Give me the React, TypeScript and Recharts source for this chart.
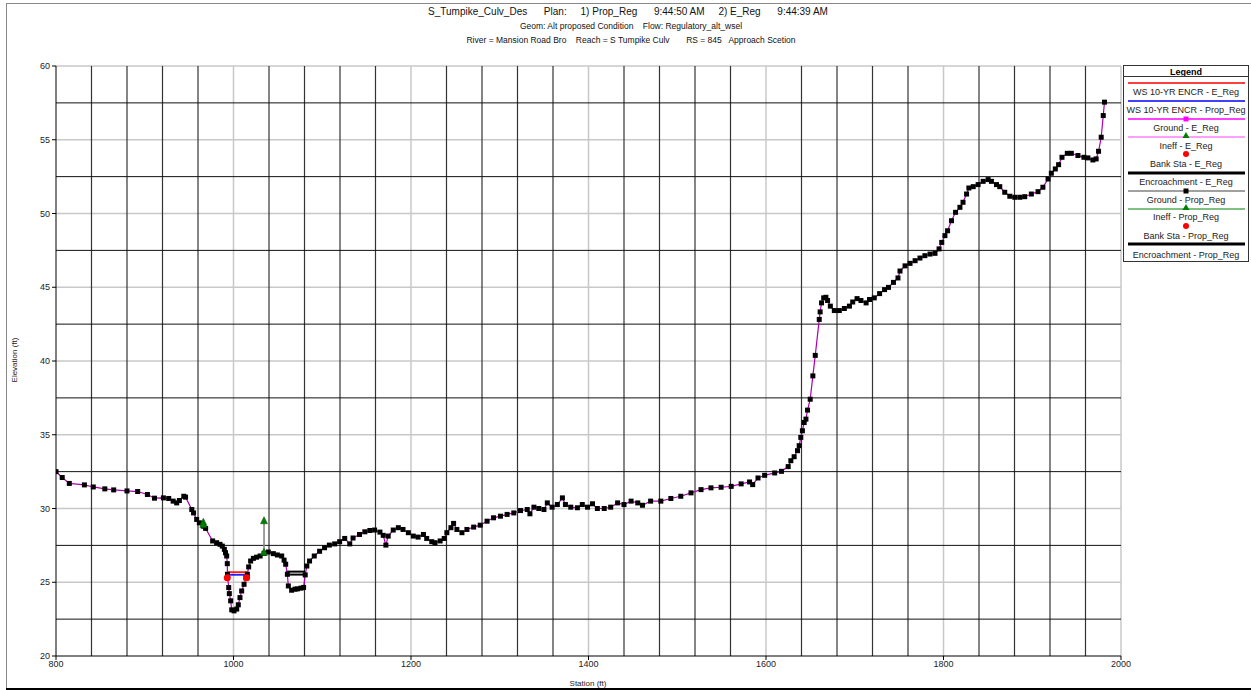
import React from 'react';
import { ComposedChart, Line, XAxis, YAxis, ReferenceLine } from 'recharts';

const FONT = "'Liberation Sans', Arial, Helvetica, sans-serif";

// Ground profile (shared by E_Reg and Prop_Reg plans)
const groundStations = [
  800, 807, 815, 832, 842, 855, 865, 880, 892, 903, 911, 921, 927, 932, 936, 939, 944, 946, 953, 955,
  958.5, 961.5, 966, 968.6, 976.5, 981, 984.8, 987.4, 989.7, 991, 992.3, 993, 993.2, 994.6, 995.3, 996.8,
  998, 1000.6, 1003.6, 1005.4, 1007.3, 1009.2, 1011.9, 1014, 1015.6, 1017.1, 1019.3, 1022.4, 1026, 1030,
  1034.4, 1039.2, 1044.9, 1049.4, 1054.3, 1057, 1058.8, 1060.7, 1061.8, 1065.5, 1069.3, 1072, 1076, 1079,
  1080.8, 1082.6, 1085.7, 1091, 1097, 1102.6, 1108, 1114, 1119.6, 1125.3, 1131, 1134.7, 1142, 1148, 1153.6,
  1159, 1165, 1168.7, 1171.7, 1174.3, 1180, 1185.7, 1191, 1197, 1202.6, 1208, 1214, 1217.7, 1223.4, 1227,
  1232.8, 1237.4, 1240.4, 1245, 1248, 1251.7, 1257.4, 1263, 1270.6, 1278, 1285.7, 1293, 1300.8, 1308.3,
  1315.8, 1323.4, 1331, 1334, 1338.5, 1344, 1349.8, 1353.6, 1359, 1364.9, 1370.6, 1374, 1380, 1387.5, 1393,
  1398.9, 1404.5, 1410, 1417.7, 1425, 1432.8, 1440, 1448, 1455.5, 1460.8, 1470, 1481.5, 1492.8, 1504,
  1515.5, 1526.8, 1538, 1549.4, 1560.8, 1572, 1581.5, 1585, 1591, 1598.5, 1609.8, 1617.4, 1625, 1628,
  1631.7, 1635.5, 1637.4, 1639.2, 1641, 1643, 1645, 1646.8, 1649.8, 1652.8, 1655.5, 1660, 1661, 1662.6,
  1665, 1667.5, 1669.4, 1672.5, 1677, 1682.6, 1688.3, 1694, 1697.7, 1702.6, 1707, 1712.8, 1716.6, 1722,
  1728, 1733.6, 1738, 1743.6, 1748.7, 1751, 1756.7, 1762.3, 1768, 1773.5, 1779, 1784.8, 1790.4, 1795, 1798,
  1801.6, 1804.6, 1809, 1813.6, 1818.5, 1822, 1826, 1828.6, 1833.5, 1839, 1844.7, 1850.3, 1854, 1859.7,
  1863.4, 1869, 1874.7, 1880.3, 1886, 1891.5, 1899, 1906.5, 1912, 1917.8, 1921.5, 1926, 1929.7, 1933.5,
  1939.5, 1944, 1951.5, 1958.2, 1962.7, 1968.3, 1972, 1974.7, 1977.7, 1980, 1981.4,
];
const groundElevations = [
  32.5, 32.1, 31.7, 31.6, 31.46, 31.33, 31.26, 31.19, 31.15, 30.95, 30.7, 30.72, 30.68, 30.5, 30.38, 30.54, 30.83, 30.77, 29.93, 29.7,
  29.26, 29.03, 28.8, 28.65, 27.8, 27.68, 27.57, 27.45, 27.23, 27.0, 26.78, 26.26, 25.54, 24.64, 24.23, 23.74,
  23.13, 23.06, 23.18, 23.47, 23.96, 24.41, 24.86, 25.3, 25.54, 26.04, 26.44, 26.62, 26.7, 26.78,
  26.96, 27.05, 26.94, 26.85, 26.78, 26.5, 26.22, 25.54, 24.75, 24.46, 24.53, 24.55, 24.6, 24.65,
  25.5, 26.1, 26.44, 26.78, 27.1, 27.34, 27.52, 27.6, 27.75, 27.97, 27.6, 28.0, 28.24, 28.42, 28.51,
  28.54, 28.4, 28.18, 27.52, 28.13, 28.54, 28.7, 28.58, 28.36, 28.13, 28.06, 28.24, 27.97, 27.75, 27.68,
  27.8, 27.97, 28.36, 28.7, 28.99, 28.58, 28.36, 28.58, 28.74, 28.87, 29.14, 29.37, 29.48, 29.6,
  29.7, 29.86, 29.93, 29.64, 30.09, 30.0, 29.93, 30.38, 30.09, 30.27, 30.72, 30.27, 30.09, 30.05, 30.27,
  30.09, 30.32, 30.0, 30.0, 30.09, 30.38, 30.27, 30.5, 30.38, 30.22, 30.5, 30.5, 30.68, 30.83,
  31.06, 31.28, 31.4, 31.44, 31.5, 31.67, 31.8, 31.62, 32.07, 32.25, 32.41, 32.52, 32.84, 33.24,
  33.51, 33.92, 34.26, 34.82, 35.27, 35.83, 36.06, 36.67, 37.41, 38.99, 40.38, 42.82, 43.33, 43.94,
  44.28, 44.32, 44.1, 43.72, 43.42, 43.42, 43.56, 43.72, 44.0, 44.23, 44.1, 43.94, 44.17, 44.28,
  44.57, 44.84, 44.99, 45.33, 45.63, 46.1, 46.45, 46.62, 46.8, 46.98, 47.14, 47.25, 47.3, 47.6, 48.04,
  48.5, 48.83, 49.51, 50.08, 50.42, 50.76, 51.32, 51.73, 51.82, 51.96, 52.18, 52.3, 52.18, 51.96,
  51.82, 51.44, 51.17, 51.1, 51.1, 51.14, 51.32, 51.48, 51.78, 52.34, 52.73, 53.02, 53.31, 53.81,
  54.08, 54.08, 53.93, 53.81, 53.77, 53.63, 53.7, 54.22, 55.17, 56.64, 57.55,
];

// Water surface (10-YR ENCR)
const wsStations = [993, 1015.6];
const wsElevE = 25.68;
const wsElevP = 25.5;

// Bank stations
const bankStations = [993, 1014.8];
const bankElev = [25.3, 25.3];

// Ineffective flow markers
const ineffEStations = [966, 1034.4];
const ineffEElev = [29.0, 29.1];
const ineffPStations = [966, 1034.4];
const ineffPElev = [28.85, 26.96];

// Encroachments
const encrStations = [1059, 1081];
const encrElevE = 25.72;
const encrElevP = 25.52;

// Axes
const xTicks = [800, 1000, 1200, 1400, 1600, 1800, 2000];
const yTicks = [20, 25, 30, 35, 40, 45, 50, 55, 60];
const xMinorGrid = [840, 880, 920, 960, 1040, 1080, 1120, 1160, 1240, 1280, 1320, 1360, 1440, 1480, 1520, 1560, 1640, 1680, 1720, 1760, 1840, 1880, 1920, 1960];
const yMinorGrid = [22.5, 27.5, 32.5, 37.5, 42.5, 47.5, 52.5, 57.5];

const groundData = groundStations.map((x, i) => ({ x, y: groundElevations[i] }));
const wsEData = wsStations.map((x) => ({ x, y: wsElevE }));
const wsPData = wsStations.map((x) => ({ x, y: wsElevP }));
const bankData = bankStations.map((x, i) => ({ x, y: bankElev[i] }));
const ineffEData = ineffEStations.map((x, i) => ({ x, y: ineffEElev[i] }));
const ineffPData = ineffPStations.map((x, i) => ({ x, y: ineffPElev[i] }));
const ineffVertData = [
  { x: ineffPStations[1], y: ineffPElev[1] },
  { x: ineffEStations[1], y: ineffEElev[1] },
];
const encrEData = encrStations.map((x) => ({ x, y: encrElevE }));
const encrPData = encrStations.map((x) => ({ x, y: encrElevP }));

const square = (props: any) => {
  const { cx, cy, index } = props;
  if (cx == null || cy == null) return <g key={`s-${index}`} />;
  return <rect key={`s-${index}`} x={cx - 2.5} y={cy - 2.5} width={5} height={5} fill="#000" />;
};
const triangle = (props: any) => {
  const { cx, cy, index } = props;
  if (cx == null || cy == null) return <g key={`t-${index}`} />;
  return (
    <polygon
      key={`t-${index}`}
      points={`${cx},${cy - 5} ${cx - 3.5},${cy + 2} ${cx + 3.5},${cy + 2}`}
      fill="#008000"
      stroke="#005000"
      strokeWidth={0.5}
    />
  );
};
const redDot = (props: any) => {
  const { cx, cy, index } = props;
  if (cx == null || cy == null) return <g key={`r-${index}`} />;
  return <circle key={`r-${index}`} cx={cx} cy={cy} r={3.5} fill="#ff0000" />;
};

const legendItems = [
  { label: 'WS 10-YR ENCR - E_Reg', kind: 'line', color: '#ff0000', w: 1.5 },
  { label: 'WS 10-YR ENCR - Prop_Reg', kind: 'line', color: '#0000ff', w: 1.5 },
  { label: 'Ground - E_Reg', kind: 'lineSq', color: '#ff00ff', w: 1.5, sq: '#ff00ff' },
  { label: 'Ineff - E_Reg', kind: 'lineTri', color: '#ff80ff', w: 1.5 },
  { label: 'Bank Sta - E_Reg', kind: 'dot' },
  { label: 'Encroachment - E_Reg', kind: 'line', color: '#000', w: 3 },
  { label: 'Ground - Prop_Reg', kind: 'lineSq', color: '#808080', w: 1.5, sq: '#000' },
  { label: 'Ineff - Prop_Reg', kind: 'lineTri', color: '#008000', w: 1 },
  { label: 'Bank Sta - Prop_Reg', kind: 'dot' },
  { label: 'Encroachment - Prop_Reg', kind: 'line', color: '#000', w: 3 },
];
const legendSymbolY = [18, 36, 54, 72, 89, 108, 126, 144, 161, 179];
const legendTextY = [30, 48, 66, 84, 102, 120, 138, 155, 174, 193];

function LegendBox() {
  const cx = 63;
  return (
    <div
      style={{
        position: 'absolute',
        left: 1123,
        top: 65,
        width: 126,
        height: 197,
        border: '1px solid #333',
        boxSizing: 'border-box',
        background: '#fff',
      }}
    >
      <svg width={126} height={197} style={{ position: 'absolute', left: -1, top: -1, overflow: 'visible' }}>
        <text x={cx} y={9.5} textAnchor="middle" fontFamily={FONT} fontSize={9} fontWeight="bold" fill="#000">
          Legend
        </text>
        <line x1={0} x2={126} y1={11.5} y2={11.5} stroke="#333" strokeWidth={1} />
        {legendItems.map((it, i) => {
          const sy = legendSymbolY[i];
          const ty = legendTextY[i];
          return (
            <g key={it.label}>
              {(it.kind === 'line' || it.kind === 'lineSq' || it.kind === 'lineTri') && (
                <line x1={5} x2={122} y1={sy} y2={sy} stroke={it.color} strokeWidth={it.w} />
              )}
              {it.kind === 'lineSq' && <rect x={cx - 2.5} y={sy - 2.5} width={5} height={5} fill={it.sq} />}
              {it.kind === 'lineTri' && (
                <polygon points={`${cx},${sy - 5} ${cx - 3.5},${sy + 1} ${cx + 3.5},${sy + 1}`} fill="#008000" />
              )}
              {it.kind === 'dot' && <circle cx={cx} cy={sy} r={3} fill="#ff0000" />}
              <text x={cx} y={ty} textAnchor="middle" fontFamily={FONT} fontSize={9} fill="#222">
                {it.label}
              </text>
            </g>
          );
        })}
      </svg>
    </div>
  );
}

export default function App() {
  return (
    <div
      style={{
        position: 'absolute',
        left: 0,
        top: 0,
        width: 1251,
        height: 690,
        overflow: 'hidden',
        background: '#fff',
        fontFamily: FONT,
      }}
    >
      {/* frame */}
      <div style={{ position: 'absolute', left: 6, top: 3, width: 1245, height: 1, background: '#888' }} />
      <div style={{ position: 'absolute', left: 6, top: 3, width: 1, height: 686, background: '#888' }} />
      <div style={{ position: 'absolute', left: 6, top: 688, width: 1245, height: 1.5, background: '#000' }} />

      {/* titles */}
      <div style={{ position: 'absolute', left: 0, width: 1256, top: 6, textAlign: 'center', fontSize: 10, whiteSpace: 'pre', color: '#111' }}>
        {'S_Tumpike_Culv_Des      Plan:     1) Prop_Reg      9:44:50 AM     2) E_Reg      9:44:39 AM'}
      </div>
      <div style={{ position: 'absolute', left: 0, width: 1262, top: 21, textAlign: 'center', fontSize: 8.5, whiteSpace: 'pre', color: '#111' }}>
        {'Geom: Alt proposed Condition    Flow: Regulatory_alt_wsel'}
      </div>
      <div style={{ position: 'absolute', left: 0, width: 1262, top: 35, textAlign: 'center', fontSize: 8.5, whiteSpace: 'pre', color: '#111' }}>
        {'River = Mansion Road Bro    Reach = S Tumpike Culv       RS = 845   Approach Scetion'}
      </div>

      <div style={{ position: 'absolute', left: 0, top: 0 }}>
        <ComposedChart width={1251} height={690} margin={{ top: 66, right: 130, bottom: 4, left: 8 }}>
          <XAxis
            type="number"
            dataKey="x"
            domain={[800, 2000]}
            ticks={xTicks}
            interval={0}
            allowDataOverflow
            height={30}
            tickSize={4}
            tickMargin={1}
            stroke="#000"
            tick={{ fontSize: 9, fill: '#222', fontFamily: FONT }}
          />
          <YAxis
            type="number"
            dataKey="y"
            domain={[20, 60]}
            ticks={yTicks}
            interval={0}
            allowDataOverflow
            width={48}
            tickSize={4}
            tickMargin={2}
            stroke="#000"
            tick={{ fontSize: 9, fill: '#222', fontFamily: FONT }}
          />
          {xTicks.slice(1).map((v) => (
            <ReferenceLine key={`xm-${v}`} x={v} stroke="#c8c8c8" strokeWidth={1.5} />
          ))}
          {yTicks.slice(1).map((v) => (
            <ReferenceLine key={`ym-${v}`} y={v} stroke="#c8c8c8" strokeWidth={1.5} />
          ))}
          {xMinorGrid.map((v) => (
            <ReferenceLine key={`xn-${v}`} x={v} stroke="#333" strokeWidth={1.2} />
          ))}
          {yMinorGrid.map((v) => (
            <ReferenceLine key={`yn-${v}`} y={v} stroke="#111" strokeWidth={1} />
          ))}

          <Line data={encrEData} dataKey="y" stroke="#000" strokeWidth={2} dot={false} isAnimationActive={false} />
          <Line data={encrPData} dataKey="y" stroke="#000" strokeWidth={2} dot={false} isAnimationActive={false} />
          <Line data={groundData} dataKey="y" stroke="#b000b0" strokeWidth={1.2} dot={false} isAnimationActive={false} />
          <Line data={groundData} dataKey="y" stroke="none" dot={square} isAnimationActive={false} />
          <Line data={wsEData} dataKey="y" stroke="#ff2020" strokeWidth={2} dot={false} isAnimationActive={false} />
          <Line data={wsPData} dataKey="y" stroke="#0000ff" strokeWidth={1.5} dot={false} isAnimationActive={false} />
          <Line data={ineffVertData} dataKey="y" stroke="#808080" strokeWidth={1.5} dot={false} isAnimationActive={false} />
          <Line data={ineffEData} dataKey="y" stroke="none" dot={triangle} isAnimationActive={false} />
          <Line data={ineffPData} dataKey="y" stroke="none" dot={triangle} isAnimationActive={false} />
          <Line data={bankData} dataKey="y" stroke="none" dot={redDot} isAnimationActive={false} />
        </ComposedChart>
      </div>

      {/* axis titles */}
      <div style={{ position: 'absolute', left: 14, top: 360, width: 0, height: 0 }}>
        <div style={{ position: 'absolute', transform: 'translate(-50%, -50%) rotate(-90deg)', fontSize: 8, whiteSpace: 'nowrap', color: '#222' }}>
          Elevation (ft)
        </div>
      </div>
      <div style={{ position: 'absolute', left: 588, top: 683, width: 0, height: 0 }}>
        <div style={{ position: 'absolute', transform: 'translate(-50%, -50%)', fontSize: 8, whiteSpace: 'nowrap', color: '#222' }}>
          Station (ft)
        </div>
      </div>

      <LegendBox />
    </div>
  );
}
